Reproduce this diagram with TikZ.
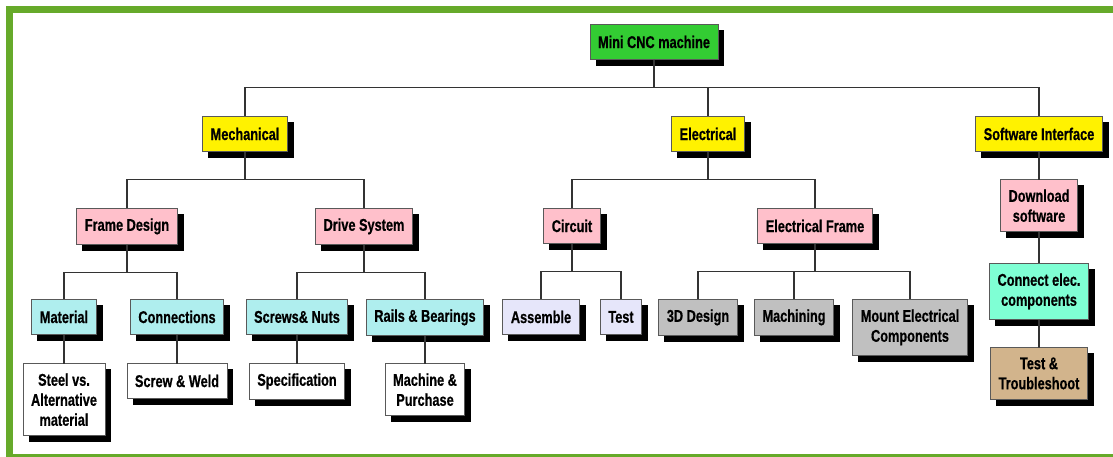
\documentclass[tikz,border=0pt]{standalone}
\usepackage{fontspec}
\setmainfont{Liberation Sans}[FakeStretch=0.75,BoldFeatures={FakeBold=0.6}]
\usetikzlibrary{backgrounds}
\definecolor{framegreen}{RGB}{102,170,42}
\definecolor{topgreen}{RGB}{51,204,51}
\definecolor{pinkbox}{RGB}{255,192,203}
\definecolor{cyanbox}{RGB}{175,238,238}
\definecolor{lavbox}{RGB}{230,230,250}
\definecolor{greybox}{RGB}{192,192,192}
\definecolor{aquabox}{RGB}{127,255,212}
\definecolor{tanbox}{RGB}{210,180,140}

\begin{document}
\begin{tikzpicture}[x=1pt,y=-1pt,
    every edge/.style={draw=black!80,line width=1.1pt,
      to path={(\tikztostart.south) -- ++(0,28) -| (\tikztotarget.north)}}]
  \tikzstyle{box}=[draw=black!65,line width=0.9pt,anchor=north,align=center,
    font=\bfseries\fontsize{17}{20}\selectfont,minimum height=35pt,
    inner xsep=8pt,inner ysep=10pt]

  \clip (0,0) rectangle (1113,457);
  \draw[framegreen,line width=7pt] (9.5,9.5) rectangle (1130,457.5);

  % top
  \node[box,fill=topgreen]  (MINI)    at (654,24)  {Mini CNC machine};
  \node[box,fill=yellow]    (MECH)    at (245,116) {Mechanical};
  \node[box,fill=yellow]    (ELEC)    at (708,116) {Electrical};
  \node[box,fill=yellow]    (SOFT)    at (1039,116) {Software Interface};

  % second level
  \node[box,fill=pinkbox]   (FRAME)   at (127,208) {Frame Design};
  \node[box,fill=pinkbox]   (DRIVE)   at (364,208) {Drive System};
  \node[box,fill=pinkbox]   (CIRC)    at (572,208) {Circuit};
  \node[box,fill=pinkbox]   (EFRAME)  at (815,208) {Electrical Frame};
  \node[box,fill=pinkbox]   (DOWN)    at (1039,179) {Download\\software};

  % third level
  \node[box,fill=cyanbox]   (MAT)     at (64,299)  {Material};
  \node[box,fill=cyanbox]   (CONN)    at (177,299) {Connections};
  \node[box,fill=cyanbox]   (SCREWS)  at (297,299) {Screws\& Nuts};
  \node[box,fill=cyanbox]   (RAILS)   at (425,299) {Rails \& Bearings};
  \node[box,fill=lavbox]    (ASSEM)   at (541,299) {Assemble};
  \node[box,fill=lavbox]    (TEST)    at (621,299) {Test};
  \node[box,fill=greybox]   (DES)     at (698,299) {3D Design};
  \node[box,fill=greybox]   (MACH)    at (794,299) {Machining};
  \node[box,fill=greybox]   (MOUNT)   at (910,299) {Mount Electrical\\Components};
  \node[box,fill=aquabox]   (CONNECT) at (1039,263) {Connect elec.\\components};
  \node[box,fill=tanbox]    (TROUBLE) at (1039,347) {Test \&\\Troubleshoot};

  % fourth level
  \node[box,fill=white]     (STEEL)   at (64,363)  {Steel vs.\\Alternative\\material};
  \node[box,fill=white]     (WELD)    at (177,363) {Screw \& Weld};
  \node[box,fill=white]     (SPEC)    at (297,363) {Specification};
  \node[box,fill=white]     (PURCH)   at (425,363) {Machine \&\\Purchase};

  % shadows behind the boxes
  \begin{scope}[on background layer]
    \foreach \n in {MINI,MECH,ELEC,SOFT,FRAME,DRIVE,CIRC,EFRAME,DOWN,
                    MAT,CONN,SCREWS,RAILS,ASSEM,TEST,DES,MACH,MOUNT,
                    CONNECT,TROUBLE,STEEL,WELD,SPEC,PURCH}
      \fill[black] ([shift={(6,6)}]\n.north west) rectangle ([shift={(6,6)}]\n.south east);
  \end{scope}

  \path (MINI)   edge (MECH)
                 edge (ELEC)
                 edge (SOFT)
        (MECH)   edge (FRAME)
                 edge (DRIVE)
        (ELEC)   edge (CIRC)
                 edge (EFRAME)
        (SOFT)   edge (DOWN)
        (FRAME)  edge (MAT)
                 edge (CONN)
        (DRIVE)  edge (SCREWS)
                 edge (RAILS)
        (CIRC)   edge (ASSEM)
                 edge (TEST)
        (EFRAME) edge (DES)
                 edge (MACH)
                 edge (MOUNT)
        (DOWN)   edge (CONNECT)
        (CONNECT) edge (TROUBLE)
        (MAT)    edge (STEEL)
        (CONN)   edge (WELD)
        (SCREWS) edge (SPEC)
        (RAILS)  edge (PURCH);
\end{tikzpicture}
\end{document}
